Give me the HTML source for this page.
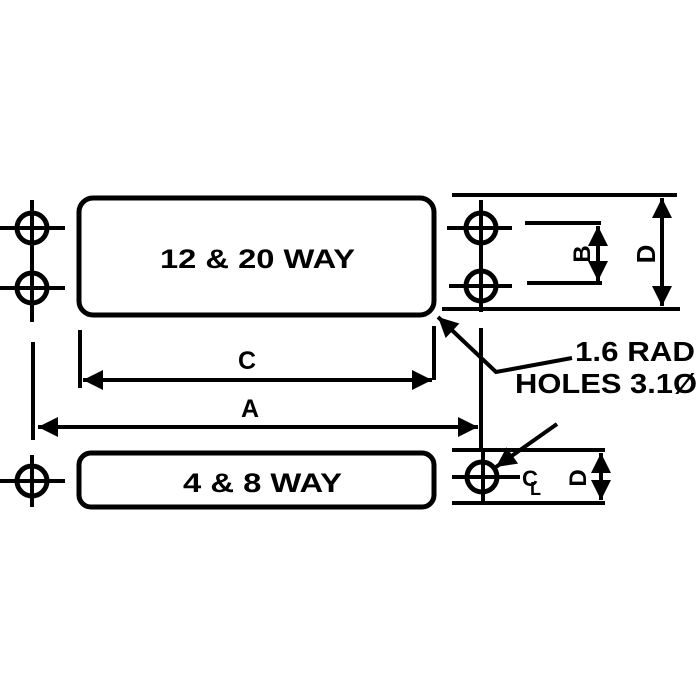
<!DOCTYPE html>
<html><head><style>html,body{margin:0;padding:0;background:#fff}svg{display:block}</style></head>
<body>
<svg width="700" height="700" viewBox="0 0 700 700" xmlns="http://www.w3.org/2000/svg" font-family="Liberation Sans, sans-serif" font-weight="bold">
<defs>
<marker id="ar" viewBox="0 0 10 10" refX="10" refY="5" markerWidth="7" markerHeight="5" orient="auto-start-reverse" markerUnits="strokeWidth">
<path d="M0,0 L10,5 L0,10 Z" fill="#000"/></marker>
</defs>
<g stroke="#000" fill="none">
<g stroke-width="5">
<circle cx="32" cy="228" r="15"/><circle cx="32" cy="288" r="15"/><circle cx="32" cy="481" r="15"/>
</g>
<g stroke-width="4">
<line x1="0" y1="228" x2="65" y2="228"/><line x1="0" y1="288" x2="65" y2="288"/>
<line x1="32" y1="200" x2="32" y2="322"/>
<line x1="0" y1="481" x2="65" y2="481"/><line x1="32" y1="455" x2="32" y2="507"/>
<line x1="33" y1="342" x2="33" y2="440"/>
</g>
<rect x="79" y="198" width="355" height="117" rx="14" stroke-width="5"/>
<rect x="79" y="453" width="355" height="54" rx="12" stroke-width="5"/>
<g stroke-width="4">
<line x1="80" y1="330" x2="80" y2="388"/><line x1="434" y1="326" x2="434" y2="380"/>
<line x1="83" y1="380" x2="432" y2="380" marker-start="url(#ar)" marker-end="url(#ar)"/>
<line x1="38" y1="427" x2="478" y2="427" marker-start="url(#ar)" marker-end="url(#ar)"/>
<line x1="481" y1="328" x2="481" y2="448"/>
</g>
<g stroke-width="5">
<circle cx="481" cy="228" r="15"/><circle cx="481" cy="286" r="15"/><circle cx="482" cy="477" r="15"/>
</g>
<g stroke-width="4">
<line x1="447" y1="228" x2="512" y2="228"/><line x1="449" y1="286" x2="512" y2="286"/>
<line x1="481" y1="200" x2="481" y2="312"/>
<line x1="452" y1="477" x2="520" y2="477"/><line x1="483" y1="452" x2="483" y2="505"/>
<line x1="452" y1="195" x2="677" y2="195"/><line x1="442" y1="309" x2="680" y2="309"/>
<line x1="525" y1="223" x2="601" y2="223"/><line x1="527" y1="283" x2="602" y2="283"/>
<line x1="598" y1="226" x2="598" y2="281" marker-start="url(#ar)" marker-end="url(#ar)"/>
<line x1="662" y1="198" x2="662" y2="306" marker-start="url(#ar)" marker-end="url(#ar)"/>
<line x1="452" y1="450" x2="605" y2="450"/><line x1="452" y1="503" x2="605" y2="503"/>
<line x1="601" y1="453" x2="601" y2="500" marker-start="url(#ar)" marker-end="url(#ar)"/>
<polyline points="572,358 496,372 438,317" marker-end="url(#ar)"/>
<line x1="557" y1="424" x2="496" y2="467" marker-end="url(#ar)"/>
</g>
</g>
<g fill="#000" stroke="none">
<text x="160" y="268" font-size="27" textLength="195" lengthAdjust="spacingAndGlyphs">12 &amp; 20 WAY</text>
<text x="183" y="492" font-size="27" textLength="159" lengthAdjust="spacingAndGlyphs">4 &amp; 8 WAY</text>
<text x="247" y="369" font-size="25" text-anchor="middle">C</text>
<text x="250" y="417" font-size="25" text-anchor="middle">A</text>
<text x="575" y="361" font-size="28" textLength="120" lengthAdjust="spacingAndGlyphs">1.6 RAD</text>
<text x="515" y="393" font-size="28" textLength="182" lengthAdjust="spacingAndGlyphs">HOLES 3.1Ø</text>
<text x="582" y="254" font-size="24" text-anchor="middle" transform="rotate(-90 582 254)" dy="8">B</text>
<text x="646" y="254" font-size="26" text-anchor="middle" transform="rotate(-90 646 254)" dy="9">D</text>
<text x="578" y="478" font-size="24" text-anchor="middle" transform="rotate(-90 578 478)" dy="8">D</text>
<text x="522" y="486" font-size="22">C</text>
<text x="530" y="495" font-size="18">L</text>
</g>
</svg>
</body></html>
